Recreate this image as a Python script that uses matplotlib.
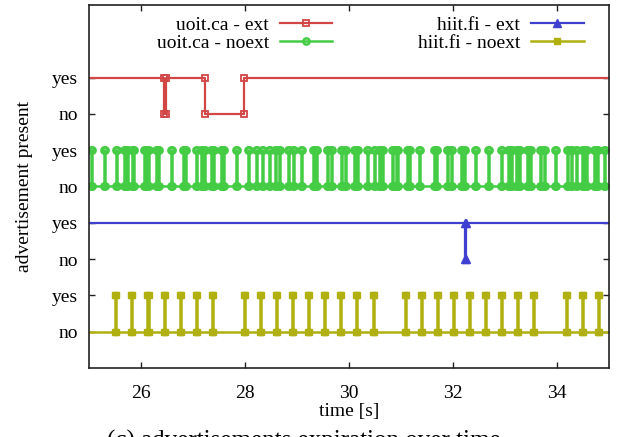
import matplotlib
matplotlib.use('Agg')
import matplotlib.pyplot as plt

plt.rcParams['font.family'] = ['Liberation Serif', 'DejaVu Serif']
plt.rcParams['font.size'] = 14

T_START, T_END = 25, 35

# uoit.ca - ext: spans [s] where the advertisement was missing
uoit_ext_gaps = [(26.44, 26.47), (27.23, 27.98)]
# hiit.fi - ext
hiit_ext_gaps = [(32.24, 32.25)]

# uoit.ca - noext: moments [s] the advertisement briefly showed up
uoit_noext_spikes = [
    25.04, 25.29, 25.51, 25.67, 25.72, 25.82, 25.85, 26.06, 26.12, 26.28,
    26.33, 26.57, 26.80, 26.84, 27.05, 27.15, 27.21, 27.34, 27.38, 27.53,
    27.58, 27.82, 28.05, 28.21, 28.33, 28.46, 28.58, 28.65, 28.82, 28.92,
    29.07, 29.31, 29.36, 29.58, 29.65, 29.84, 29.92, 30.10, 30.16, 30.35,
    30.48, 30.58, 30.64, 30.83, 30.90, 30.93, 31.12, 31.15, 31.35, 31.63,
    31.67, 31.89, 31.96, 32.15, 32.21, 32.43, 32.67, 32.92, 33.05, 33.11,
    33.21, 33.27, 33.43, 33.49, 33.68, 33.75, 33.96, 34.20, 34.27, 34.36,
    34.49, 34.55, 34.71, 34.78, 34.90,
]
# hiit.fi - noext
hiit_noext_spikes = [
    25.50, 25.81, 26.12, 26.44, 26.75, 27.06, 27.37, 27.98, 28.29, 28.60,
    28.90, 29.21, 29.52, 29.83, 30.14, 30.46, 31.08, 31.38, 31.69, 32.00,
    32.31, 32.62, 32.92, 33.23, 33.54, 34.17, 34.48, 34.79,
]

levels = [0, 1, 2, 3, 4, 5, 6, 7]
level_labels = ['no', 'yes'] * 4


def gap_trace(gaps, lo):
    # present the whole time except inside the gaps
    hi = lo + 1
    xs, ys = [T_START - 1], [hi]
    for a, b in gaps:
        xs += [a, a, b, b]
        ys += [hi, lo, lo, hi]
    xs.append(T_END + 1)
    ys.append(hi)
    return xs, ys


def spike_trace(times, lo, width=0.02):
    # absent the whole time except short bursts
    hi = lo + 1
    xs, ys = [T_START - 1], [lo]
    for t in times:
        xs += [t, t, t + width, t + width]
        ys += [lo, hi, hi, lo]
    xs.append(T_END + 1)
    ys.append(lo)
    return xs, ys


fig = plt.figure(figsize=(6.23, 4.37), dpi=100)
ax = fig.add_axes([0.1433, 0.158, 0.834, 0.8306])

x, y = gap_trace(uoit_ext_gaps, 6)
ax.plot(x, y, color='#d24646', lw=1.6, marker='s', ms=5, mfc='none', mew=1.3,
        label='uoit.ca - ext')
x, y = spike_trace(uoit_noext_spikes, 4)
ax.plot(x, y, color='#44cc44', lw=1.8, marker='o', ms=4.5, mfc='none', mew=1.8,
        label='uoit.ca - noext')
x, y = gap_trace(hiit_ext_gaps, 2)
ax.plot(x, y, color='#4040d0', lw=1.6, marker='^', ms=5.5,
        label='hiit.fi - ext')
x, y = spike_trace(hiit_noext_spikes, 0)
ax.plot(x, y, color='#b0b010', lw=1.8, marker='s', ms=5,
        label='hiit.fi - noext')

ax.set_xlim(T_START, T_END)
ax.set_ylim(-1, 9)
ax.set_xticks([26, 28, 30, 32, 34])
ax.set_yticks(levels)
ax.set_yticklabels(level_labels)
ax.tick_params(direction='in', top=True, right=True, length=4, width=1,
               color='#222222')
ax.tick_params(axis='x', pad=12)
ax.tick_params(axis='y', pad=8)
for sp in ax.spines.values():
    sp.set_linewidth(1.2)
    sp.set_color('#222222')

ax.set_xlabel('time [s]', labelpad=1)
ax.set_ylabel('advertisement present', labelpad=14)

ax.legend(loc='upper right', bbox_to_anchor=(0.97, 0.995), ncol=2,
          frameon=False, markerfirst=False, borderpad=0, handlelength=2.7,
          handletextpad=0.55, columnspacing=4.4, labelspacing=0.0)

fig.text(0.487, 0.016, '(c) advertisements expiration over time',
         ha='center', va='top', fontsize=18)

fig.savefig('out.png', dpi=100)
